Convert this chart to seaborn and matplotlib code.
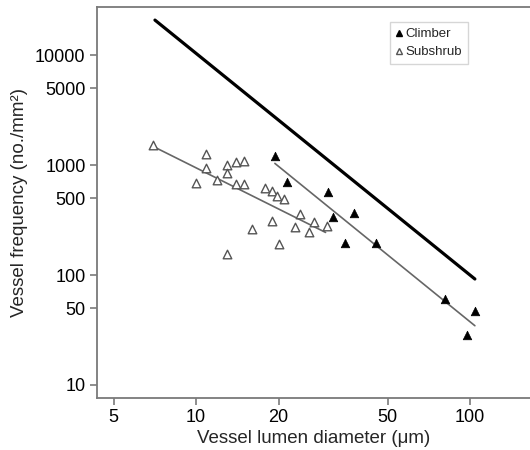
import numpy as np
import pandas as pd
import matplotlib
matplotlib.use("Agg")
import matplotlib.pyplot as plt
import seaborn as sns
from matplotlib.lines import Line2D

# Data
sub_x = [6.95, 10.9, 10.9, 10.0, 11.96, 12.95, 12.95, 13.96, 15.0, 13.96, 15.0,
         17.9, 18.9, 19.8, 20.9, 24.0, 19.0, 27.0, 16.0, 23.0, 25.9, 30.0, 20.0, 12.95]
sub_y = [1520, 1259, 934, 690, 731, 1000, 851, 1072, 1087, 667, 671,
         622, 581, 522, 491, 359, 312, 305, 260, 275, 246, 279, 190, 155]
cl_x = [19.4, 21.5, 30.4, 37.7, 31.5, 35.0, 45.3, 81.1, 104.2, 97.3]
cl_y = [1216, 705, 572, 368, 339, 194, 194, 60.1, 47.3, 28.5]

# Line end points
thick_x = [7.08, 104.2]
thick_y = [20800, 92]
sub_fit_x = [7.08, 29.7]
sub_fit_y = [1449, 244]
cl_fit_x = [19.4, 104.2]
cl_fit_y = [1035, 34.6]

x_ticks = [5, 10, 20, 50, 100]
y_ticks = [10, 50, 100, 500, 1000, 5000, 10000]

sns.set_style("white")
plt.rcParams['font.family'] = ['Liberation Sans', 'DejaVu Sans']

fig = plt.figure(figsize=(5.3, 4.5), dpi=100)
ax = fig.add_axes([0.1825, 0.1156, 0.8175, 0.868])

spine_col = '#7a7a7a'

sns.lineplot(x=thick_x, y=thick_y, ax=ax, color='black', linewidth=2.3, sort=False)
sns.lineplot(x=sub_fit_x, y=sub_fit_y, ax=ax, color='#666666', linewidth=1.2, sort=False)
sns.lineplot(x=cl_fit_x, y=cl_fit_y, ax=ax, color='#666666', linewidth=1.2, sort=False)

sns.scatterplot(x=sub_x, y=sub_y, ax=ax, marker='^', s=38, facecolor='white',
                edgecolor='#555555', linewidth=1.0, zorder=3)
sns.scatterplot(x=cl_x, y=cl_y, ax=ax, marker='^', s=38, color='black',
                edgecolor='black', linewidth=0.5, zorder=3)

ax.set_xscale('log')
ax.set_yscale('log')
ax.set_xlim(4.34, 165.6)
ax.set_ylim(7.62, 27140)
ax.set_xticks(x_ticks)
ax.set_xticklabels([str(t) for t in x_ticks])
ax.set_yticks(y_ticks)
ax.set_yticklabels([str(t) for t in y_ticks])
ax.minorticks_off()

for s in ['left', 'bottom', 'top']:
    ax.spines[s].set_color(spine_col)
    ax.spines[s].set_linewidth(1.3)
ax.spines['right'].set_visible(False)
ax.tick_params(axis='both', which='major', direction='out', length=5, width=1.2,
               color=spine_col, labelsize=13, pad=3, labelcolor='black',
               bottom=True, left=True)

ax.set_xlabel('Vessel lumen diameter (μm)', fontsize=13.5, labelpad=3)
ax.set_ylabel('Vessel frequency (no./mm²)', fontsize=13.5, labelpad=5)

handles = [
    Line2D([], [], linestyle='none', marker='^', markersize=5, markerfacecolor='black',
           markeredgecolor='black', label='Climber'),
    Line2D([], [], linestyle='none', marker='^', markersize=5, markerfacecolor='white',
           markeredgecolor='#555555', label='Subshrub'),
]
leg = ax.legend(handles=handles, loc='upper left', bbox_to_anchor=(390/530, 1 - 22/450),
                bbox_transform=fig.transFigure, borderaxespad=0, frameon=True,
                fancybox=False, fontsize=9.5, handlelength=0.5, handletextpad=0.25,
                borderpad=0.45, labelspacing=0.45)
leg.get_frame().set_edgecolor('#cccccc')
leg.get_frame().set_linewidth(1.0)

fig.savefig('out.png', dpi=100)
